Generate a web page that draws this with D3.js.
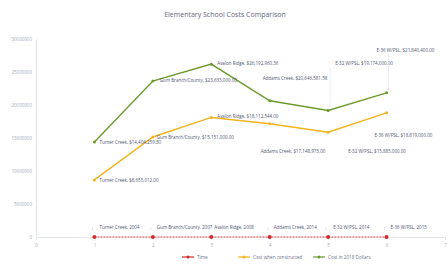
<!DOCTYPE html>
<html lang="en">
<head>
<meta charset="UTF-8">
<title>Elementary School Costs Comparison</title>
<script src="https://d3js.org/d3.v7.min.js"></script>
<style>
  body { margin: 0; background: #fff; }
  svg text { font-family: "Open Sans", "DejaVu Sans", sans-serif; }
</style>
</head>
<body>
<svg width="448" height="264"></svg>
<script>
const schools = ["Turner Creek", "Gum Branch/County", "Avalon Ridge", "Addams Creek", "E-32 W/PSL", "E-36 W/PSL"];
const order = [1, 2, 3, 4, 5, 6];
const years = [2004, 2007, 2008, 2014, 2014, 2015];
const costConstructed = [8655012.00, 15151000.00, 18112544.00, 17148973.00, 15885000.00, 18819000.00];
const cost2018 = [14404259.30, 23633000.00, 26192960.36, 20646581.58, 19174000.00, 21840400.00];
const yTicks = [0, 5000000, 10000000, 15000000, 20000000, 25000000, 30000000];
const xTicks = [0, 1, 2, 3, 4, 5, 6, 7];
const seriesNames = ["Time", "Cost when constructed", "Cost in 2018 Dollars"];

const svg = d3.select("svg");
const x = d3.scaleLinear().domain([0, 7]).range([36, 445]);
const y = d3.scaleLinear().domain([0, 30000000]).range([237, 39]);
const money = d3.format("$,.2f");

// title
svg.append("text")
  .attr("x", 225).attr("y", 17)
  .attr("text-anchor", "middle")
  .style("font-size", "7px")
  .attr("fill", "#5f6480")
  .text("Elementary School Costs Comparison");

// axes
const yAxis = svg.append("g")
  .attr("transform", "translate(36,0)")
  .call(d3.axisLeft(y).tickValues(yTicks).tickFormat(d3.format("d")).tickSize(0).tickPadding(4));
yAxis.select(".domain").attr("stroke", "#e4e6ee");
yAxis.selectAll("text").style("font-size", "4.5px").attr("fill", "#a4aac0");

const xAxis = svg.append("g")
  .attr("transform", "translate(0,237)")
  .call(d3.axisBottom(x).tickValues(xTicks).tickFormat(d3.format("d")).tickSize(3).tickPadding(4));
xAxis.select(".domain").attr("stroke", "#e4e6ee");
xAxis.selectAll("line").attr("stroke", "#e4e6ee");
xAxis.selectAll("text").style("font-size", "4.5px").attr("fill", "#a4aac0");

const series = [
  { name: seriesNames[0], values: years, color: "#d42a2a", dash: "2,1",
    label: (i) => schools[i] + ", " + years[i],
    pos: [[5, -8], [4, -8], [3, -8], [4, -8], [5, -8], [4, -8]], leader: true },
  { name: seriesNames[1], values: costConstructed, color: "#f4b21c", dash: null,
    label: (i) => schools[i] + ", " + money(costConstructed[i]),
    pos: [[5, 2], [4, 2], [6, 1], [-9, 29], [20, 21], [-12, 24]], leader: false },
  { name: seriesNames[2], values: cost2018, color: "#6c9a2c", dash: null,
    label: (i) => schools[i] + ", " + money(cost2018[i]),
    pos: [[5, 2], [7, 1], [6, 1], [-7, -21], [7, -45], [-10, -41]], leader: false }
];

const line = d3.line()
  .x((d, i) => x(order[i]))
  .y(d => y(d));

series.forEach(s => {
  svg.append("path")
    .datum(s.values)
    .attr("fill", "none")
    .attr("stroke", s.color)
    .attr("stroke-width", s.dash ? 0.8 : 1.4)
    .attr("stroke-dasharray", s.dash)
    .attr("d", line);

  svg.append("g").selectAll("circle")
    .data(s.values)
    .join("circle")
    .attr("cx", (d, i) => x(order[i]))
    .attr("cy", d => y(d))
    .attr("r", s.dash ? 2 : 1.5)
    .attr("fill", s.color);

  const lab = svg.append("g").selectAll("g")
    .data(s.values)
    .join("g");
  if (s.leader) {
    lab.append("line")
      .attr("x1", (d, i) => x(order[i]) - 2)
      .attr("x2", (d, i) => x(order[i]) - 2)
      .attr("y1", (d, i) => y(d) + s.pos[i][1] - 2)
      .attr("y2", (d, i) => y(d) + s.pos[i][1] + 1)
      .attr("stroke", "#c8cbe0").attr("stroke-width", 0.5);
  }
  lab.append("text")
    .attr("x", (d, i) => x(order[i]) + s.pos[i][0])
    .attr("y", (d, i) => y(d) + s.pos[i][1])
    .style("font-size", "4.5px")
    .attr("fill", "#4f5570")
    .text((d, i) => s.label(i));
});

// leader lines for the green labels placed far from their points
[4, 5].forEach(i => {
  svg.append("line")
    .attr("x1", x(order[i]) + 2).attr("x2", x(order[i]) + 2)
    .attr("y1", y(cost2018[i]) + series[2].pos[i][1] + 2)
    .attr("y2", y(cost2018[i]) - 3)
    .attr("stroke", "#d8dae8").attr("stroke-width", 0.5);
});

// legend
const legendX = [182, 238, 313];
const legend = svg.append("g").selectAll("g")
  .data(series)
  .join("g")
  .attr("transform", (d, i) => "translate(" + legendX[i] + ",257)");
legend.append("line")
  .attr("x1", 0).attr("x2", 12)
  .attr("stroke", d => d.color).attr("stroke-width", 1.2);
legend.append("circle")
  .attr("cx", 6).attr("r", 1.5)
  .attr("fill", d => d.color);
legend.append("text")
  .attr("x", 15).attr("y", 1.6)
  .style("font-size", "4.6px")
  .attr("fill", "#6a6f88")
  .text(d => d.name);
</script>
</body>
</html>
